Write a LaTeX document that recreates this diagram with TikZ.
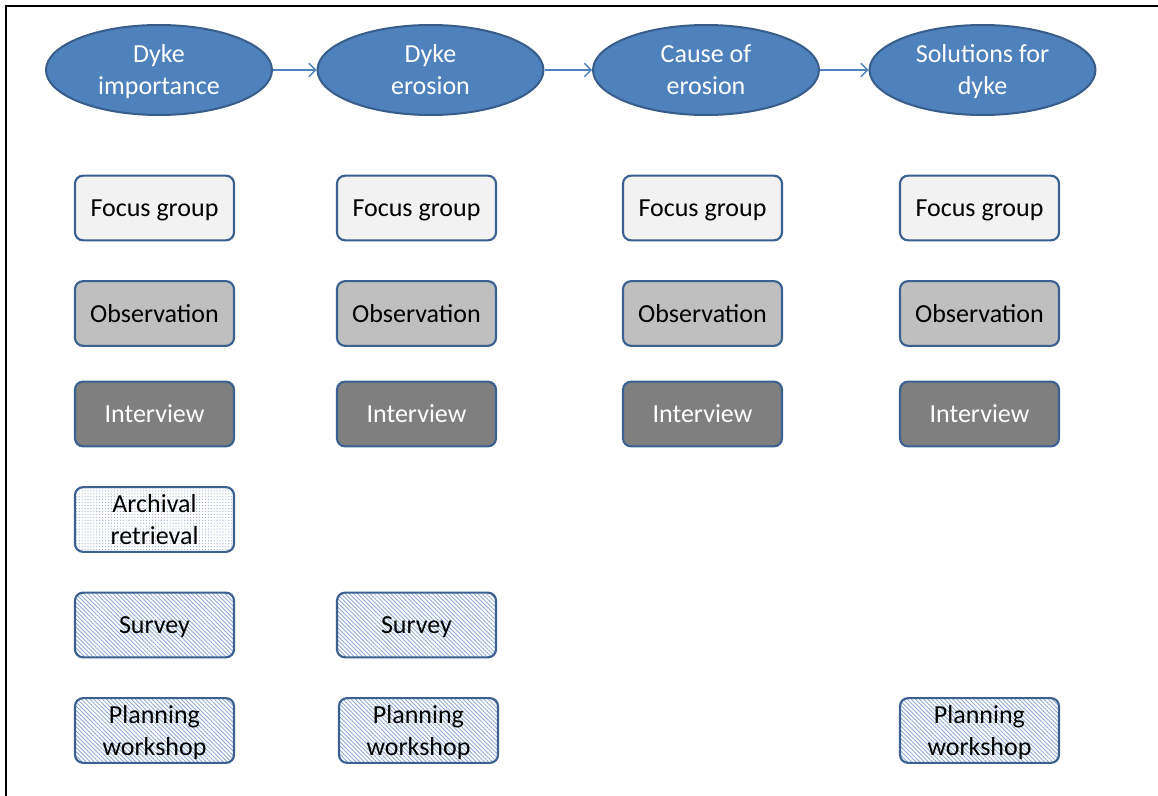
\documentclass[tikz,border=0pt]{standalone}
\usepackage{fontspec}
\setmainfont{Carlito}
\usetikzlibrary{arrows.meta,shapes.geometric,patterns.meta}

\definecolor{stageblue}{RGB}{79,129,189}
\definecolor{stageedge}{RGB}{56,93,138}
\definecolor{boxedge}{RGB}{60,96,144}
\definecolor{fgfill}{RGB}{242,242,242}
\definecolor{obfill}{RGB}{191,191,191}
\definecolor{ivfill}{RGB}{127,127,127}
\definecolor{hatchblue}{RGB}{140,170,212}

% line strut: every text line gets the same height and depth
\newcommand{\linestrut}{\vrule height 18.1pt depth 5.1pt width 0pt}

\tikzset{
  txt/.style={font=\fontsize{19.5}{23.2}\selectfont, align=center},
  stage/.style={txt, ellipse, draw=stageedge, line width=1.5pt, fill=stageblue,
    text=white, minimum width=169.5pt, minimum height=67.5pt, inner sep=0pt},
  method/.style={txt, rectangle, rounded corners=6pt, draw=boxedge, line width=1.6pt,
    minimum width=119.25pt, minimum height=48.5pt, inner sep=0pt},
  focus/.style={method, fill=fgfill},
  observe/.style={method, fill=obfill},
  interview/.style={method, fill=ivfill, text=white},
  archive/.style={method, pattern={Dots[distance=2.2pt, radius=0.45pt]}, pattern color=hatchblue},
  hatched/.style={method, pattern={Lines[angle=-45, distance=2.2pt, line width=0.65pt]}, pattern color=hatchblue},
  flow/.style={draw=stageblue, line width=1pt, -{Straight Barb[length=5pt, width=10pt]}},
}

\begin{document}
\begin{tikzpicture}[x=0.75pt, y=-0.75pt]
\useasboundingbox (0,0) rectangle (1158,796);

% outer frame (top and left edges)
\draw[line width=1.6pt] (6,796) -- (6,6) -- (1158,6);

% stages
\node[stage] (e1) at (159,70) {\linestrut Dyke\\\linestrut importance};
\node[stage] (e2) at (430.5,70) {\linestrut Dyke\\\linestrut erosion};
\node[stage] (e3) at (706,70) {\linestrut Cause of\\\linestrut erosion};
\node[stage] (e4) at (982.5,70) {\linestrut Solutions for\\\linestrut dyke};
\draw[flow] (e1) -- (e2);
\draw[flow] (e2) -- (e3);
\draw[flow] (e3) -- (e4);

% methods per stage
\node[focus] (fg1) at (154.5,208) {\linestrut Focus group};
\node[focus] (fg2) at (416.5,208) {\linestrut Focus group};
\node[focus] (fg3) at (702.5,208) {\linestrut Focus group};
\node[focus] (fg4) at (979.5,208) {\linestrut Focus group};

\node[observe] (ob1) at (154.5,313.5) {\linestrut Observation};
\node[observe] (ob2) at (416.5,313.5) {\linestrut Observation};
\node[observe] (ob3) at (702.5,313.5) {\linestrut Observation};
\node[observe] (ob4) at (979.5,313.5) {\linestrut Observation};

\node[interview] (iv1) at (154.5,414) {\linestrut Interview};
\node[interview] (iv2) at (416.5,414) {\linestrut Interview};
\node[interview] (iv3) at (702.5,414) {\linestrut Interview};
\node[interview] (iv4) at (979.5,414) {\linestrut Interview};

\node[archive] (ar1) at (154.5,519.5) {\linestrut Archival\\\linestrut retrieval};

\node[hatched] (sv1) at (154.5,625) {\linestrut Survey};
\node[hatched] (sv2) at (416.5,625) {\linestrut Survey};

\node[hatched] (pw1) at (154.5,730.5) {\linestrut Planning\\\linestrut workshop};
\node[hatched] (pw2) at (418.5,730.5) {\linestrut Planning\\\linestrut workshop};
\node[hatched] (pw4) at (979.5,730.5) {\linestrut Planning\\\linestrut workshop};
\end{tikzpicture}
\end{document}
